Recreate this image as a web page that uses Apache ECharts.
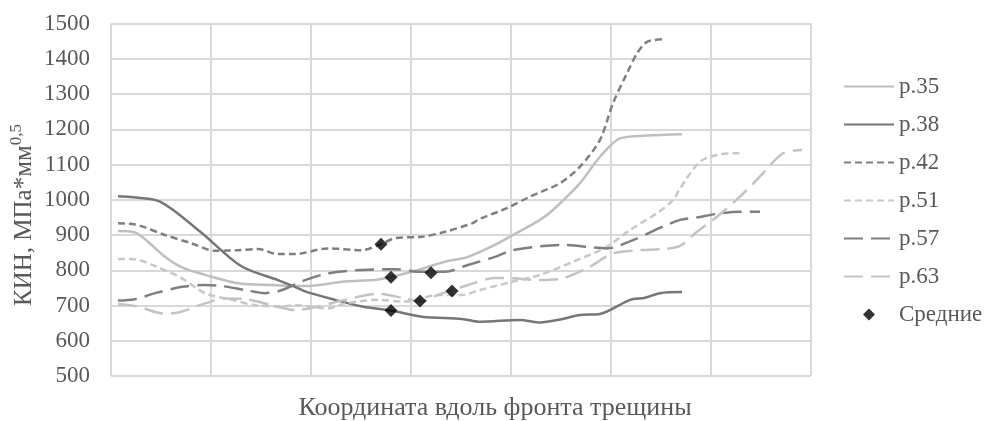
<!DOCTYPE html>
<html>
<head>
<meta charset="utf-8">
<script src="https://cdn.jsdelivr.net/npm/echarts@6/dist/echarts.min.js"></script>
<style>
html,body{margin:0;padding:0;background:#fff;}
#chart{width:991px;height:421px;}
</style>
</head>
<body>
<div id="chart"></div>
<script>
// Data (x = position along crack front, in grid-interval units; y = SIF, MPa*mm^0.5)
var yTicks = [500, 600, 700, 800, 900, 1000, 1100, 1200, 1300, 1400, 1500];
var seriesNames = ['p.35', 'p.38', 'p.42', 'p.51', 'p.57', 'p.63', 'Средние'];
var xTitle = 'Координата вдоль фронта трещины';
var yTitleMain = 'КИН, МПа*мм';
var yTitleSup = '0,5';

var p35 = [[0.07,911],[0.24,907],[0.37,881],[0.54,838],[0.71,808],[0.94,787],[1.27,763],[1.61,758],[1.94,755],[2.34,768],[2.67,774],[3.01,796],[3.34,824],[3.57,838],[3.84,872],[4.02,900],[4.29,943],[4.42,971],[4.69,1047],[4.89,1122],[5.09,1174],[5.36,1182],[5.71,1186]];
var p38 = [[0.07,1010],[0.19,1008],[0.49,995],[0.89,910],[1.30,812],[1.67,772],[1.84,753],[1.94,740],[2.24,716],[2.51,697],[2.80,686],[3.11,668],[3.51,662],[3.69,654],[4.09,659],[4.29,652],[4.49,660],[4.69,673],[4.89,676],[5.19,716],[5.34,722],[5.49,735],[5.71,738]];
var p42 = [[0.07,933],[0.24,930],[0.54,900],[0.81,876],[1.04,855],[1.27,857],[1.47,860],[1.67,846],[1.84,846],[2.17,862],[2.51,857],[2.70,874],[2.84,891],[3.11,895],[3.34,909],[3.61,933],[3.69,946],[3.96,976],[4.19,1009],[4.49,1047],[4.69,1094],[4.89,1170],[5.02,1274],[5.16,1359],[5.26,1415],[5.36,1448],[5.51,1455]];
var p51 = [[0.07,832],[0.24,831],[0.44,812],[0.71,777],[0.94,735],[1.21,716],[1.44,701],[1.71,697],[1.84,701],[2.17,692],[2.34,706],[2.67,716],[2.94,711],[3.27,730],[3.51,730],[3.69,744],[4.02,768],[4.29,787],[4.62,824],[4.96,867],[5.19,914],[5.46,962],[5.62,999],[5.69,1032],[5.89,1108],[6.06,1127],[6.29,1133]];
var p57 = [[0.07,714],[0.24,718],[0.44,735],[0.71,753],[0.94,758],[1.11,755],[1.34,744],[1.54,735],[1.71,744],[1.94,772],[2.17,791],[2.51,801],[2.84,803],[3.07,796],[3.34,796],[3.57,815],[3.84,838],[4.02,857],[4.52,872],[4.96,862],[5.19,882],[5.52,924],[5.69,943],[5.86,950],[6.06,960],[6.29,966],[6.49,966]];
var p63 = [[0.07,704],[0.27,697],[0.51,678],[0.61,678],[0.94,706],[1.14,720],[1.34,718],[1.61,701],[1.84,687],[2.04,695],[2.34,716],[2.67,733],[2.94,720],[3.09,711],[3.27,730],[3.57,758],[3.84,778],[4.02,777],[4.29,772],[4.52,777],[4.79,810],[5.02,848],[5.29,857],[5.52,860],[5.69,869],[5.86,909],[6.06,952],[6.29,1009],[6.52,1075],[6.72,1132],[6.91,1141]];
var means = [[2.70,874],[2.80,780],[2.80,686],[3.09,713],[3.20,793],[3.41,741]];

var FONT = '"Liberation Serif", "Times New Roman", serif';
var TXT = '#595959';
var GRIDC = '#d9d9d9';

function lineSeries(name, data, color, dash) {
  return {
    name: name, type: 'line', data: data, smooth: 0.3, symbol: 'none',
    lineStyle: { color: color, width: 2.5, type: dash },
    itemStyle: { color: color },
    z: 2
  };
}

var legendData = seriesNames.map(function (n, i) {
  if (i === 6) return { name: n, icon: 'path://M5,0L10,5L5,10L0,5Z' };
  return { name: n, itemStyle: { opacity: 0 } };
});

var chart = echarts.init(document.getElementById('chart'), null, { renderer: 'canvas' });
chart.setOption({
  animation: false,
  backgroundColor: '#fff',
  grid: { left: 111, right: 180, top: 23.5, bottom: 45, containLabel: false },
  xAxis: {
    type: 'value', min: 0, max: 7, interval: 1,
    axisLine: { show: false }, axisTick: { show: false }, axisLabel: { show: false },
    splitLine: { show: true, lineStyle: { color: GRIDC, width: 2 } }
  },
  yAxis: {
    type: 'value', min: yTicks[0], max: yTicks[yTicks.length - 1], interval: 100,
    axisLine: { show: false }, axisTick: { show: false },
    axisLabel: { fontFamily: FONT, fontSize: 23, color: TXT, margin: 21,
      formatter: function (v) { return String(v); } },
    splitLine: { show: true, lineStyle: { color: GRIDC, width: 2 } }
  },
  legend: {
    orient: 'vertical', left: 838, top: 70,
    itemWidth: 50, itemHeight: 12, itemGap: 15,
    textStyle: { fontFamily: FONT, fontSize: 23, color: TXT },
    data: legendData
  },
  graphic: [
    {
      type: 'text', x: 495, y: 408,
      style: { text: xTitle, font: '26px ' + FONT, fill: TXT, textAlign: 'center', textVerticalAlign: 'middle' }
    },
    {
      type: 'text', x: 24, y: 215, rotation: Math.PI / 2,
      style: {
        text: '{a|' + yTitleMain + '}{b|' + yTitleSup + '}',
        fill: TXT, align: 'center', verticalAlign: 'middle',
        rich: {
          a: { fontFamily: FONT, fontSize: 25, fill: TXT },
          b: { fontFamily: FONT, fontSize: 17, fill: TXT, padding: [0, 0, 14, 0] }
        }
      }
    }
  ],
  series: [
    lineSeries(seriesNames[0], p35, '#bfbfbf', 'solid'),
    lineSeries(seriesNames[1], p38, '#767676', 'solid'),
    lineSeries(seriesNames[2], p42, '#7f7f7f', [7, 4]),
    lineSeries(seriesNames[3], p51, '#c8c8c8', [7, 4]),
    lineSeries(seriesNames[4], p57, '#7f7f7f', [19, 8]),
    lineSeries(seriesNames[5], p63, '#c3c3c3', [19, 8]),
    {
      name: seriesNames[6], type: 'scatter', data: means,
      symbol: 'diamond', symbolSize: 13,
      itemStyle: { color: '#000' }, z: 5
    }
  ]
});
</script>
</body>
</html>
